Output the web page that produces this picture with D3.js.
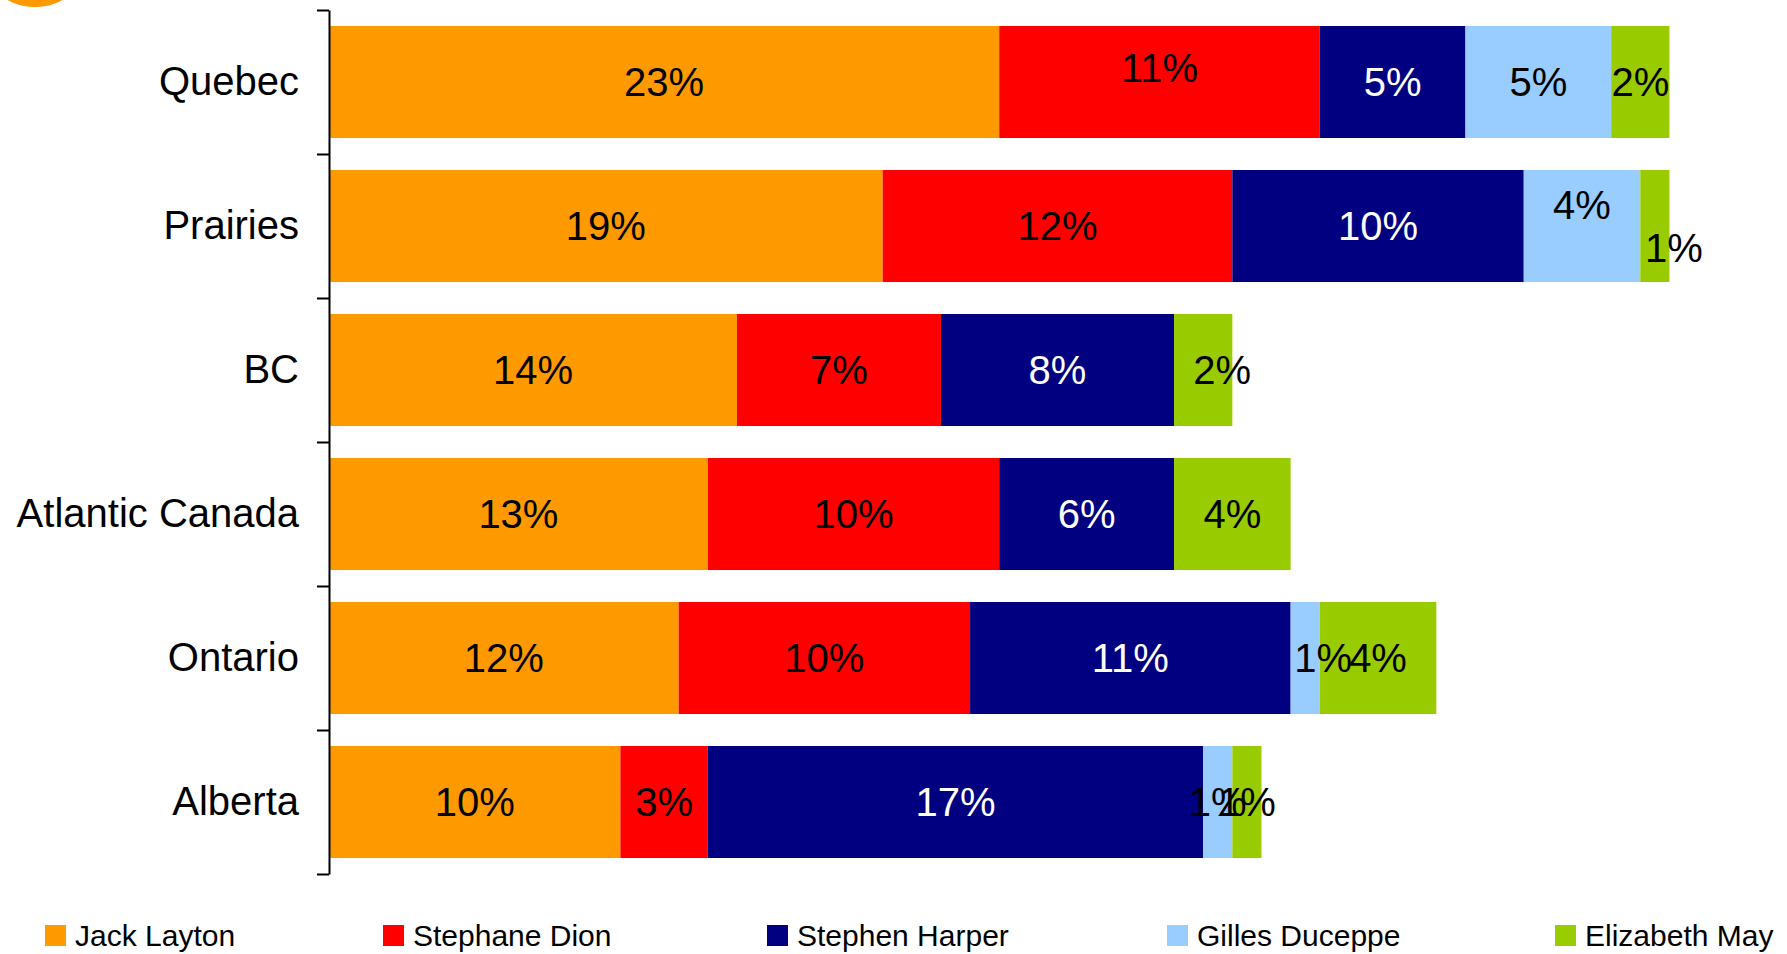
<!DOCTYPE html>
<html>
<head>
<meta charset="utf-8">
<script src="https://cdn.jsdelivr.net/npm/d3@7"></script>
<style>
  body { margin: 0; background: #fff; }
  svg { display: block; font-family: "Liberation Sans", Arial, Helvetica, sans-serif; }
</style>
</head>
<body>
<svg width="1787" height="954"></svg>
<script>
// regions, top to bottom
var regions = ['Quebec', 'Prairies', 'BC', 'Atlantic Canada', 'Ontario', 'Alberta']
var leaders = ['Jack Layton', 'Stephane Dion', 'Stephen Harper', 'Gilles Duceppe', 'Elizabeth May']

// share of vote (%) per leader, in region order
var layton   = [23, 19, 14, 13, 12, 10]
var dion     = [11, 12,  7, 10, 10,  3]
var harper   = [ 5, 10,  8,  6, 11, 17]
var duceppe  = [ 5,  4,  0,  0,  1,  1]
var may      = [ 2,  1,  2,  4,  4,  1]

var colors = ['#FF9900', '#FF0000', '#000080', '#99CCFF', '#99CC00']
var labelColors = ['#000', '#000', '#fff', '#000', '#000']

// small nudges where the original labels were moved off centre
var labelNudge = {
  'Quebec|1': [0, -14],
  'Prairies|3': [0, -21],
  'Prairies|4': [19, 22],
  'BC|4': [19, 0],
  'Ontario|3': [18, 0]
}

var series = [layton, dion, harper, duceppe, may]

var rows = regions.map(function(r, i) {
  var row = { region: r }
  leaders.forEach(function(l, j) { row[l] = series[j][i] })
  return row
})

var stacked = d3.stack().keys(leaders)(rows)

const axisX = 329
const plotTop = 10
const plotBottom = 874

const svg = d3.select('svg')

// decorative circle peeking in at the top left
svg.append('circle')
  .attr('cx', 35)
  .attr('cy', -50)
  .attr('r', 57)
  .attr('fill', '#FF9900')

const x = d3.scaleLinear()
  .domain([0, 50])
  .range([axisX, axisX + 1457])

const y = d3.scaleBand()
  .domain(regions)
  .range([plotTop, plotBottom])
  .paddingInner(0.222)
  .paddingOuter(0.111)

const bars = svg.append('g')
const labels = svg.append('g')

stacked.forEach(function(layer, j) {
  bars.selectAll(null)
    .data(layer)
    .enter()
    .append('rect')
    .attr('x', (d) => x(d[0]))
    .attr('y', (d) => y(d.data.region))
    .attr('width', (d) => x(d[1]) - x(d[0]))
    .attr('height', y.bandwidth())
    .attr('fill', colors[j])

  // labels go in their own group so later segments don't cover them
  labels.selectAll(null)
    .data(layer.filter((d) => d[1] - d[0] > 0))
    .enter()
    .append('text')
    .attr('x', function(d) {
      var n = labelNudge[d.data.region + '|' + j]
      return (x(d[0]) + x(d[1])) / 2 + (n ? n[0] : 0)
    })
    .attr('y', function(d) {
      var n = labelNudge[d.data.region + '|' + j]
      return y(d.data.region) + y.bandwidth() / 2 + (n ? n[1] : 0)
    })
    .attr('dy', '0.36em')
    .attr('text-anchor', 'middle')
    .attr('font-size', 40)
    .attr('fill', labelColors[j])
    .text((d) => (d[1] - d[0]) + '%')
})

// axis line with ticks on the band edges
const edges = d3.scaleLinear().domain([0, regions.length]).range([plotTop, plotBottom])
svg.append('g')
  .attr('transform', `translate(${axisX}, 0)`)
  .call(d3.axisLeft(edges).tickValues(d3.range(regions.length + 1)).tickFormat('').tickSize(12).tickSizeOuter(0))
  .call((g) => g.selectAll('line, path').attr('stroke', '#000').attr('stroke-width', 2))

// region labels
svg.append('g')
  .attr('transform', `translate(${axisX - 30}, 0)`)
  .call(d3.axisLeft(y).tickSize(0).tickPadding(0))
  .call((g) => g.select('.domain').remove())
  .call((g) => g.selectAll('text')
    .attr('font-size', 40)
    .attr('font-family', '"Liberation Sans", Arial, sans-serif')
    .attr('fill', '#000'))

// legend
const legendX = [45, 383, 767, 1167, 1555]
const legend = svg.append('g')
leaders.forEach(function(l, j) {
  legend.append('rect')
    .attr('x', legendX[j])
    .attr('y', 925)
    .attr('width', 21)
    .attr('height', 21)
    .attr('fill', colors[j])
  legend.append('text')
    .attr('x', legendX[j] + 30)
    .attr('y', 946)
    .attr('font-size', 30)
    .attr('fill', '#000')
    .text(l)
})
</script>
</body>
</html>
